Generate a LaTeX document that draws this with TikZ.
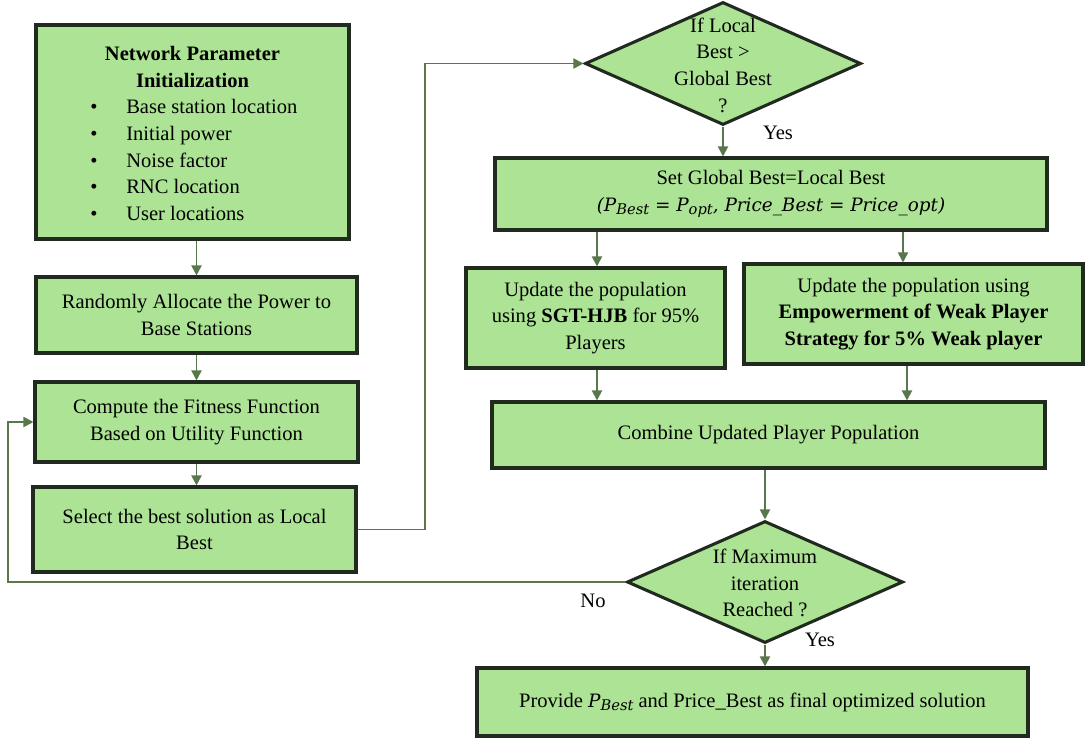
\documentclass[tikz,border=0pt]{standalone}
\usepackage{fontspec}
\setmainfont{Liberation Serif}
\newfontfamily\mfont{DejaVu Serif}
\usetikzlibrary{shapes.geometric,arrows.meta}
\definecolor{boxfill}{RGB}{172,227,148}
\definecolor{boxline}{RGB}{32,42,30}
\definecolor{arrcol}{RGB}{88,120,76}
\newcommand{\myfont}{\fontsize{15.4}{20}\selectfont}
\newcommand{\mth}[1]{{\mfont\itshape\fontsize{13.8}{20}\selectfont #1}}
\newcommand{\sbs}[1]{\raisebox{-0.35ex}{\fontsize{11}{12}\selectfont #1}}
\begin{document}
\begin{tikzpicture}[x=0.75pt,y=-0.75pt,
  box/.style={draw=boxline,line width=2.3pt,fill=boxfill,rectangle,inner sep=0pt,align=center,font=\myfont},
  dia/.style={draw=boxline,line width=2.3pt,fill=boxfill,diamond,inner sep=0pt},
  txt/.style={align=center,font=\myfont,inner sep=0pt},
  arr/.style={draw=arrcol,line width=1.4pt,-{Triangle[length=7.5pt,width=7.5pt]}},
  lbl/.style={font=\myfont,inner sep=0pt}]
\useasboundingbox (0,0) rectangle (1085,739);

% left column
\node[box,minimum width=234.75pt,minimum height=160.5pt] (n1) at (192.5,132) {};
\node[txt,font=\myfont\bfseries] (n1title) at (192.5,67) {Network Parameter\\Initialization};
\node[txt,align=left,anchor=west] (n1list) at (90,160) {%
\makebox[27pt][l]{•}Base station location\\
\makebox[27pt][l]{•}Initial power\\
\makebox[27pt][l]{•}Noise factor\\
\makebox[27pt][l]{•}RNC location\\
\makebox[27pt][l]{•}User locations};
\node[box,minimum width=240.75pt,minimum height=57pt] (n2) at (196.5,315) {Randomly Allocate the Power to\\Base Stations};
\node[box,minimum width=242.25pt,minimum height=60pt] (n3) at (196.5,422) {Compute the Fitness Function\\Based on Utility Function};
\node[box,minimum width=242.25pt,minimum height=63.75pt] (n4) at (194.5,529.5) {Select the best solution as Local\\Best};

% right column
\node[dia,minimum width=207pt,minimum height=92.25pt] (d1) at (723,63.5) {};
\node[txt] (d1t) at (723,65) {If Local\\Best >\\Global Best\\?};
\node[box,minimum width=414pt,minimum height=54pt] (set) at (771,194) {Set Global Best=Local Best\\\mth{(P\sbs{Best} = P\sbs{opt}, Price\_Best = Price\_opt)}};
\node[box,minimum width=194.25pt,minimum height=75pt] (sgt) at (595.5,318) {Update the population\\using \textbf{SGT-HJB} for 95\%\\Players};
\node[box,minimum width=254.25pt,minimum height=75pt] (weak) at (913.5,314) {Update the population using\\\textbf{Empowerment of Weak Player}\\\textbf{Strategy for 5\% Weak player}};
\node[box,minimum width=414.75pt,minimum height=49.5pt] (comb) at (768.5,435) {Combine Updated Player Population};
\node[dia,minimum width=207pt,minimum height=91.5pt] (d2) at (765,582) {};
\node[txt] (d2t) at (765,583) {If Maximum\\iteration\\Reached ?};
\node[box,minimum width=413.25pt,minimum height=51pt] (final) at (752.5,702) {Provide \mth{P\sbs{Best}} and Price\_Best as final optimized solution};

% labels
\node[lbl] (yes1) at (778,133) {Yes};
\node[lbl] (no) at (593,601) {No};
\node[lbl] (yes2) at (820,640) {Yes};

% connectors
\coordinate (c1) at (425,529.5);
\coordinate (c2) at (425,63.5);
\coordinate (c3) at (8,582);
\coordinate (c4) at (8,422);
\coordinate (s1) at (597,194);
\coordinate (s2) at (903,194);
\coordinate (w1) at (907,314);
\draw[arr] (n2.north |- n1.south) -- (n2.north);
\draw[arr] (n2.south) -- (n3.north);
\draw[arr] (n3.south) -- (n3.south |- n4.north);
\draw[arr] (n4.east) -- (c1) -- (c2) -- (d1.west);
\draw[arr] (d1.south) -- (d1.south |- set.north);
\draw[arr] (s1 |- set.south) -- (s1 |- sgt.north);
\draw[arr] (s2 |- set.south) -- (s2 |- weak.north);
\draw[arr] (s1 |- sgt.south) -- (s1 |- comb.north);
\draw[arr] (w1 |- weak.south) -- (w1 |- comb.north);
\draw[arr] (d2.north |- comb.south) -- (d2.north);
\draw[arr] (d2.south) -- (d2.south |- final.north);
\draw[arr] (d2.west) -- (c3) -- (c4) -- (n3.west);
\end{tikzpicture}
\end{document}
